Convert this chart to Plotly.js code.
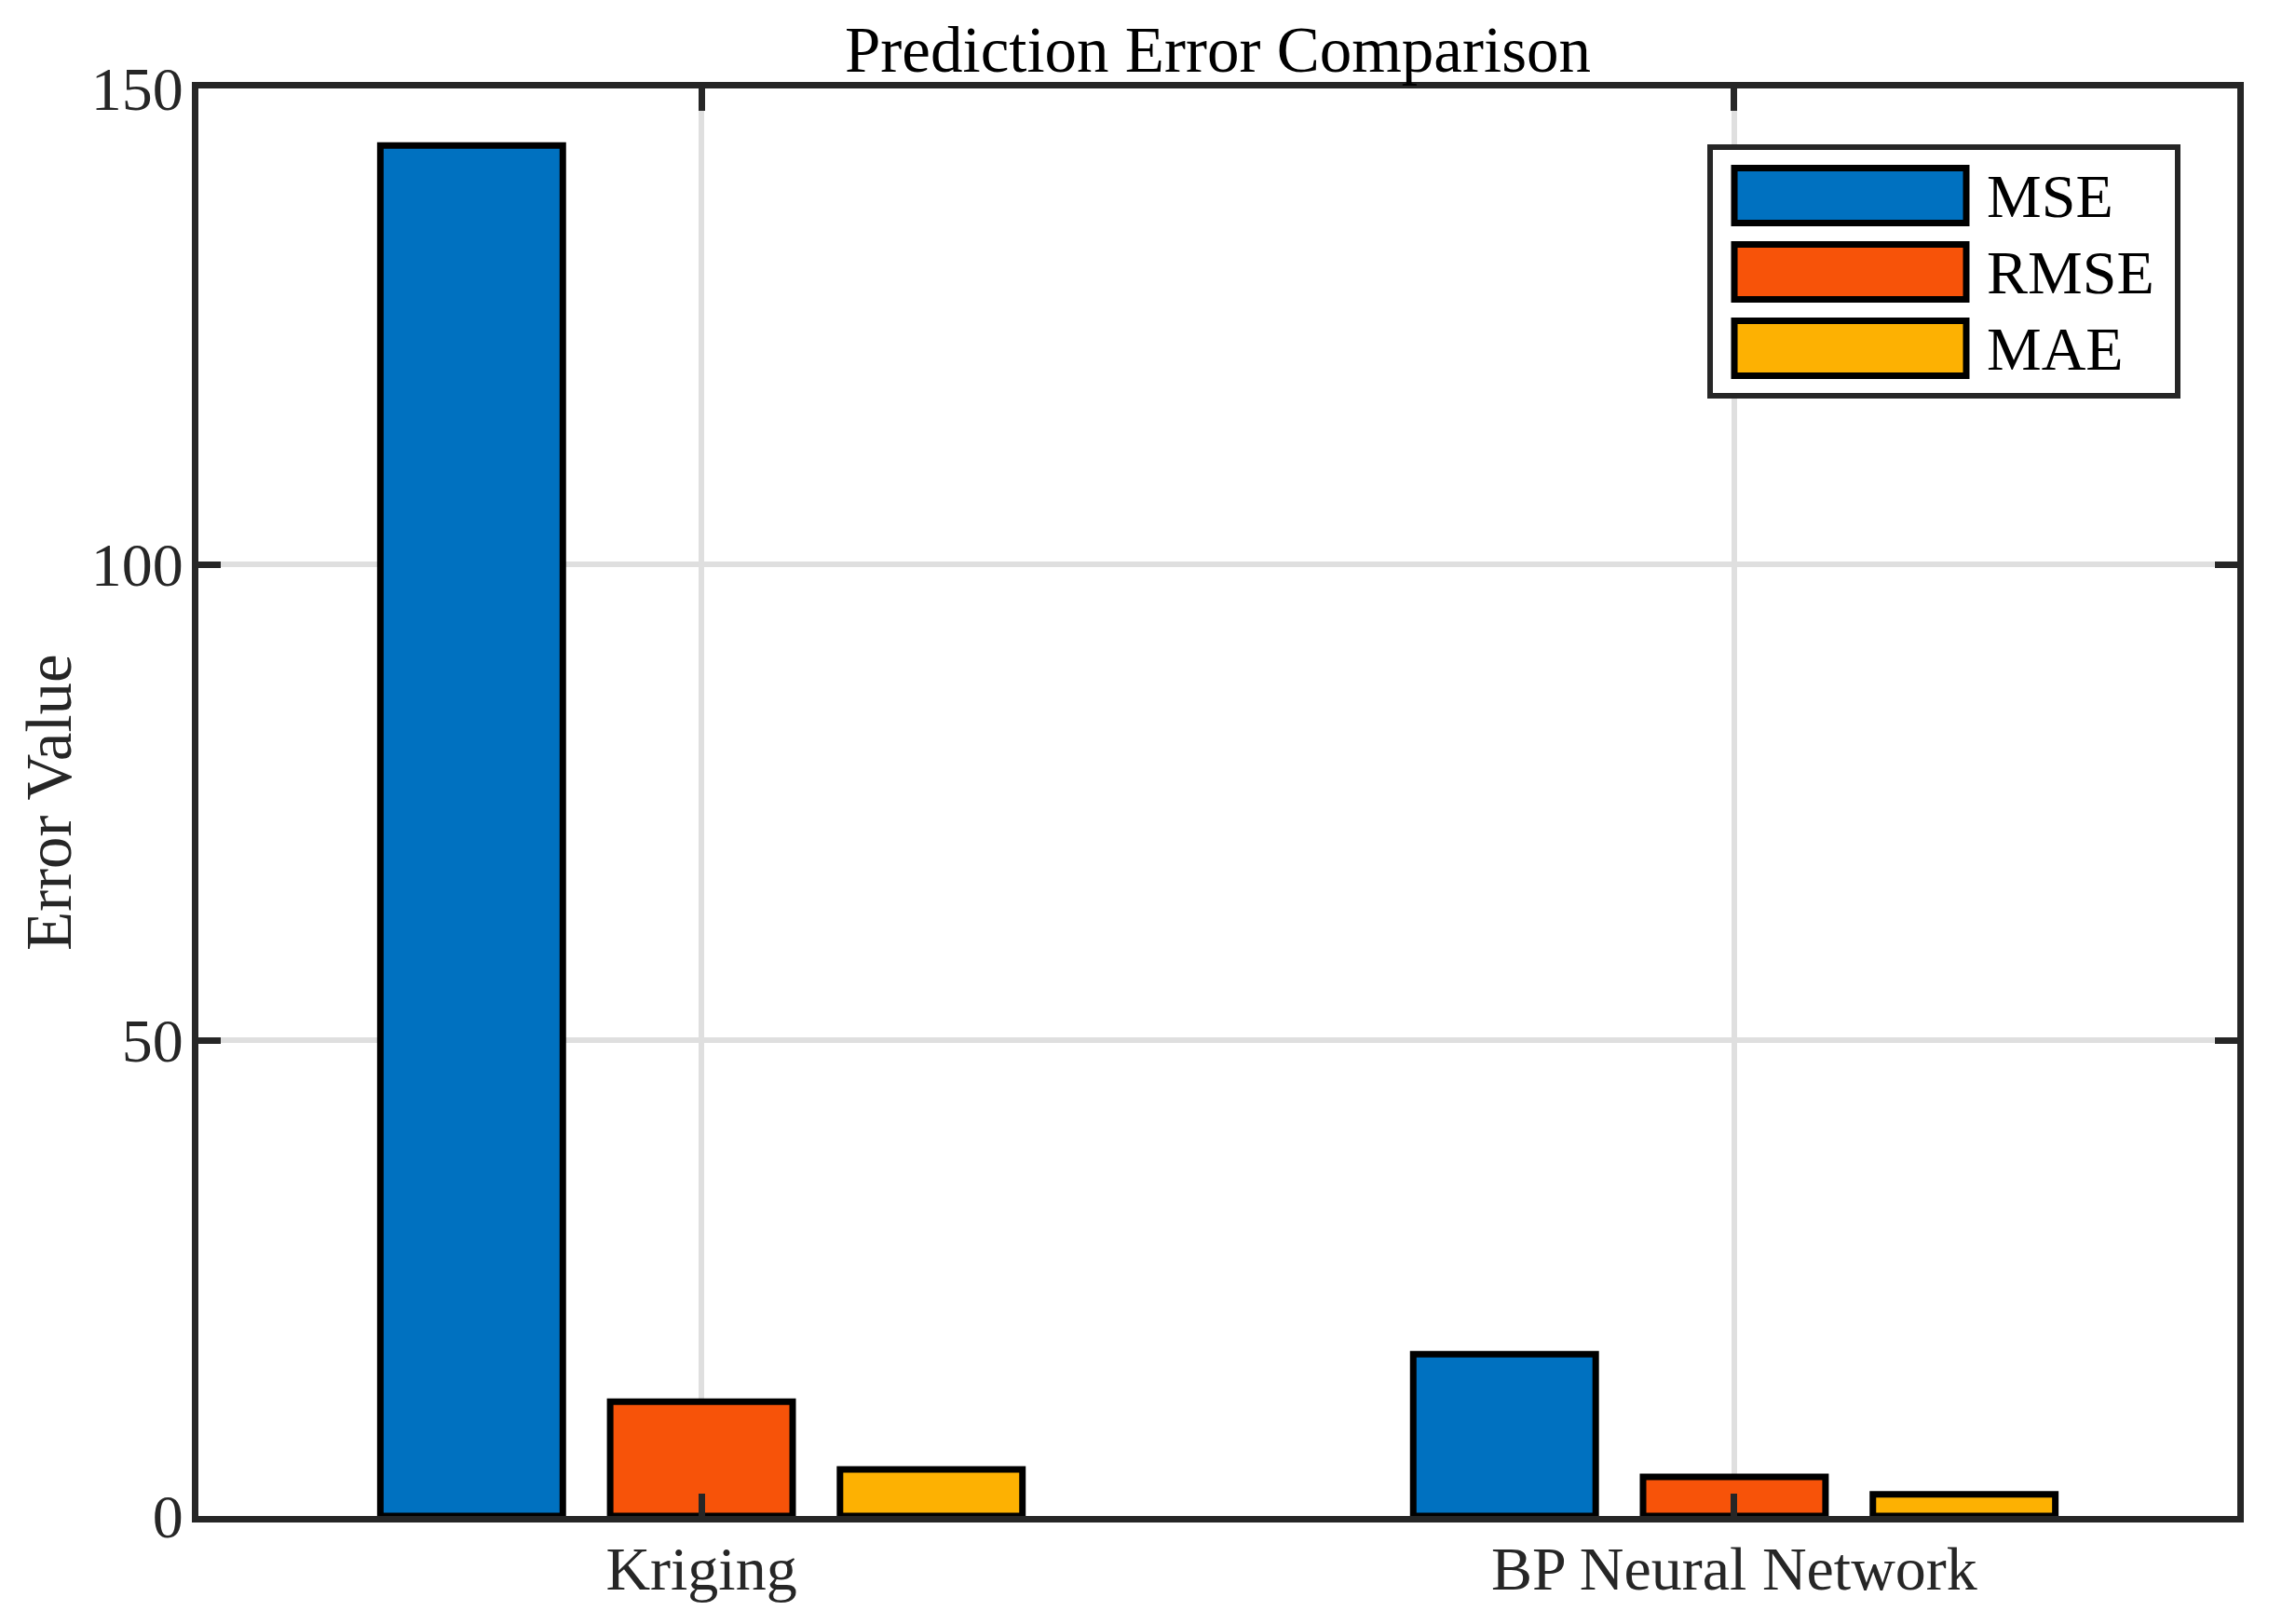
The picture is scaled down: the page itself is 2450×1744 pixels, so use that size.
<!DOCTYPE html>
<html><head><meta charset="utf-8">
<script src="https://cdn.plot.ly/plotly-3.0.1.min.js"></script>
<style>html,body{margin:0;padding:0;background:#fff}</style>
</head><body>
<div id="chart" style="width:2450px;height:1744px"></div>
<script>
// ---- data ----
const categories = ['Kriging', 'BP Neural Network'];
const seriesNames = ['MSE', 'RMSE', 'MAE'];
const mseValues = [144.0, 17.0];
const rmseValues = [12.0, 4.12];
const maeValues = [4.9, 2.27];
const yTickValues = [0, 50, 100, 150];
const yTickLabels = ['0', '50', '100', '150'];
const chartTitle = 'Prediction Error Comparison';
const yAxisTitle = 'Error Value';

// ---- styles ----
const seriesColors = ['#0071C0', '#F75309', '#FDB102'];
const FONT = 'Liberation Serif, "Times New Roman", Times, serif';
const W = 2450, H = 1744;
const M = {l: 213, r: 48, t: 95, b: 116};
const plotW = W - M.l - M.r, plotH = H - M.t - M.b;
const px2x = px => (px - M.l) / plotW;
const py2y = py => (M.t + plotH - py) / plotH;
const axisColor = '#262626';

const seriesValues = [mseValues, rmseValues, maeValues];
const traces = seriesNames.map((name, i) => ({
  type: 'bar',
  name: name,
  x: categories,
  y: seriesValues[i],
  marker: {color: seriesColors[i], line: {color: '#000000', width: 7}},
  showlegend: false,
  hoverinfo: 'x+y+name'
}));

// custom legend (large MATLAB-style swatches)
const shapes = [{
  type: 'rect', xref: 'paper', yref: 'paper', layer: 'above',
  x0: px2x(1836), x1: px2x(2338), y0: py2y(158), y1: py2y(425),
  fillcolor: '#ffffff', line: {color: axisColor, width: 6}
}];
const annotations = [];
seriesNames.forEach((name, i) => {
  const rowC = 210 + 82 * i;
  shapes.push({
    type: 'rect', xref: 'paper', yref: 'paper', layer: 'above',
    x0: px2x(1862), x1: px2x(2111), y0: py2y(rowC - 29.5), y1: py2y(rowC + 29.5),
    fillcolor: seriesColors[i], line: {color: '#000000', width: 7}
  });
  annotations.push({
    xref: 'paper', yref: 'paper', x: px2x(2131), y: py2y(rowC),
    xanchor: 'left', yanchor: 'middle', showarrow: false, text: name,
    font: {family: FONT, size: 66, color: '#000000'}
  });
});
annotations.push({
  xref: 'paper', yref: 'paper', x: px2x(52.5), y: 0.5,
  xanchor: 'center', yanchor: 'middle', showarrow: false, textangle: -90,
  text: yAxisTitle, font: {family: FONT, size: 69, color: axisColor}
});

const layout = {
  width: W, height: H,
  margin: M,
  paper_bgcolor: '#ffffff', plot_bgcolor: '#ffffff',
  title: {
    text: chartTitle,
    font: {family: FONT, size: 69, color: '#000000'},
    xref: 'paper', x: 0.5, xanchor: 'center',
    yref: 'container', y: 1 - 52.5 / H, yanchor: 'middle'
  },
  barmode: 'group',
  bargap: 0.3325,
  bargroupgap: 0.206,
  showlegend: false,
  xaxis: {
    type: 'category',
    range: [-0.487, 1.487],
    showline: true, linecolor: axisColor, linewidth: 7, mirror: 'ticks',
    ticks: 'inside', ticklen: 24, tickwidth: 7, tickcolor: axisColor,
    showgrid: true, gridcolor: '#dfdfdf', gridwidth: 6,
    tickfont: {family: FONT, size: 66, color: axisColor},
    ticklabelstandoff: -7,
    zeroline: false, fixedrange: true
  },
  yaxis: {
    range: [0, 150],
    tickvals: yTickValues, ticktext: yTickLabels,
    showline: true, linecolor: axisColor, linewidth: 7, mirror: 'ticks',
    ticks: 'inside', ticklen: 24, tickwidth: 7, tickcolor: axisColor,
    showgrid: true, gridcolor: '#dfdfdf', gridwidth: 6,
    tickfont: {family: FONT, size: 66, color: axisColor},
    ticklabelstandoff: -4,
    zeroline: false, fixedrange: true
  },
  shapes: shapes,
  annotations: annotations
};

Plotly.newPlot('chart', traces, layout, {staticPlot: true, displayModeBar: false});
</script>
</body></html>
